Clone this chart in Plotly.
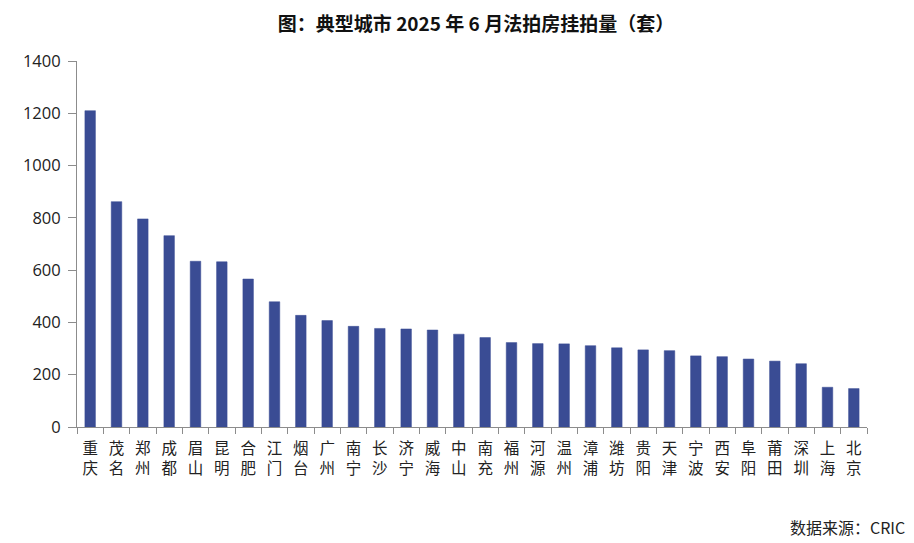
import plotly.graph_objects as go

cities = ["重庆", "茂名", "郑州", "成都", "眉山", "昆明", "合肥", "江门", "烟台", "广州",
          "南宁", "长沙", "济宁", "威海", "中山", "南充", "福州", "河源", "温州", "漳浦",
          "潍坊", "贵阳", "天津", "宁波", "西安", "阜阳", "莆田", "深圳", "上海", "北京"]
listings = [1210, 862, 796, 732, 634, 632, 566, 479, 427, 407,
            385, 377, 375, 371, 355, 342, 323, 319, 318, 311,
            303, 295, 292, 272, 269, 260, 252, 242, 152, 147]
y_ticks = [0, 200, 400, 600, 800, 1000, 1200, 1400]

labels = [c[0] + "<br>" + c[1] for c in cities]

# The page body adds an 8px offset, so the figure is sized to fit the window.
W, H = 906, 535
L, R, T, B = 69, 47, 53, 116

fig = go.Figure(go.Bar(
    x=labels, y=listings,
    marker=dict(color="#3A4C94", line=dict(color="#3A4C94", width=0.5)),
    hoverinfo="x+y",
))

fig.update_layout(
    width=W, height=H,
    margin=dict(l=L, r=R, t=T, b=B),
    paper_bgcolor="white", plot_bgcolor="white",
    bargap=0.6,
    showlegend=False,
    title=dict(text="<b>图：典型城市 2025 年 6 月法拍房挂拍量（套）</b>",
               xref="container", yref="container",
               x=468 / W, xanchor="center", y=1 - 16 / H, yanchor="middle",
               font=dict(family="Noto Sans CJK SC", size=19, color="#111111")),
    annotations=[dict(text="数据来源：CRIC", xref="paper", yref="paper",
                      x=(899 - L) / (W - L - R), y=-(519 - (H - B)) / (H - T - B),
                      xanchor="right", yanchor="middle",
                      showarrow=False,
                      font=dict(family="Noto Sans CJK SC", size=16, color="#222222"))],
)

fig.update_xaxes(
    type="category", showline=True, linecolor="#8c8c8c", linewidth=1,
    ticks="outside", tickson="boundaries", ticklen=6, tickcolor="#8c8c8c",
    ticklabelstandoff=7,
    tickfont=dict(family="Noto Sans CJK SC", size=15.5, color="#222222"),
    showgrid=False, tickangle=0,
)
fig.update_yaxes(
    range=[0, 1400], tickvals=y_ticks, showline=True, linecolor="#8c8c8c",
    linewidth=1, ticks="outside", ticklen=8, tickcolor="#8c8c8c",
    ticklabelstandoff=4,
    tickfont=dict(family="Open Sans", size=16.5, color="#222222"),
    showgrid=False, zeroline=False,
)

fig.write_html("out.html")
